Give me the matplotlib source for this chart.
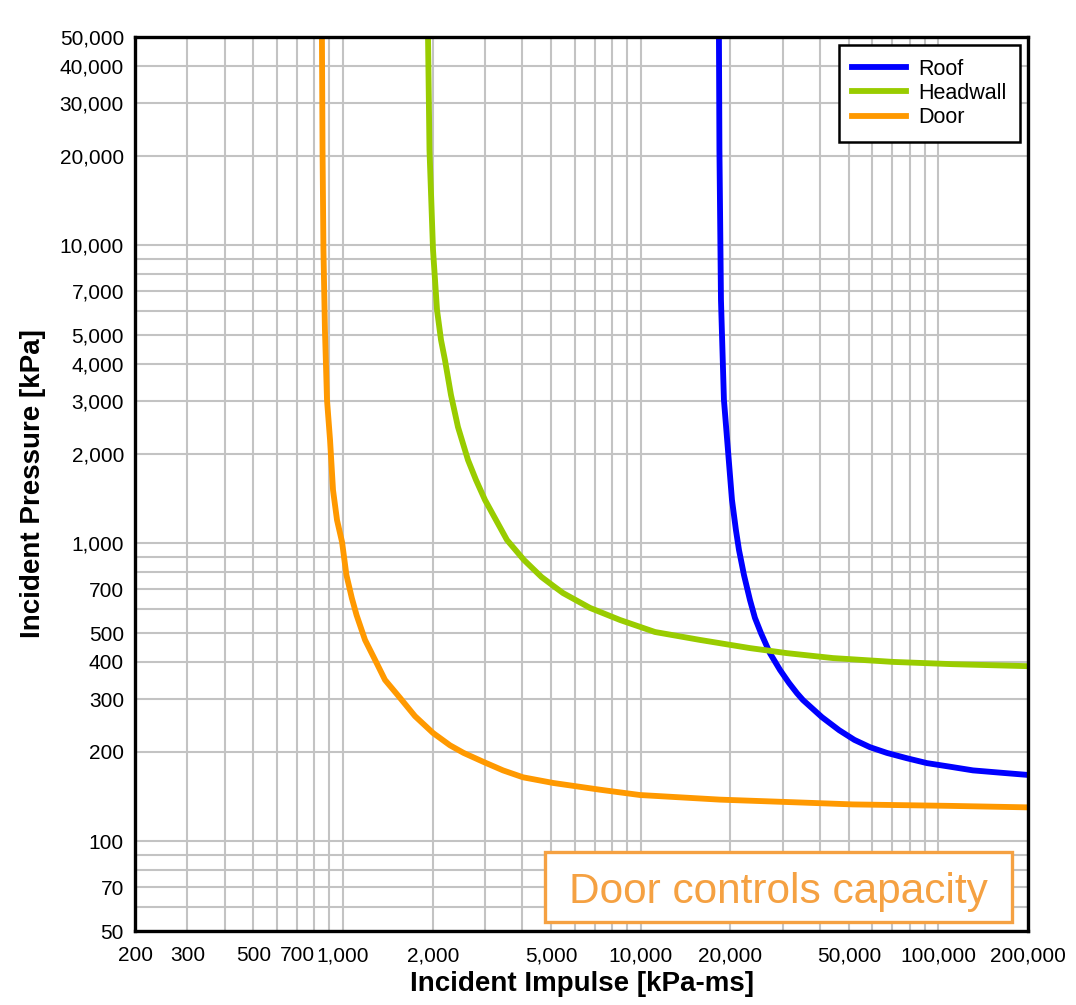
import matplotlib.pyplot as plt
import numpy as np
from matplotlib.ticker import FixedLocator, LogLocator, NullFormatter
from matplotlib.patches import Rectangle

plt.rcParams['font.family'] = ['Liberation Sans', 'DejaVu Sans']

# P-I curves (impulse in kPa-ms, pressure in kPa)
roof_impulse = [18310, 18380, 18600, 19030, 19630, 20250, 20880, 21380, 22220, 23280,
                24190, 25340, 27160, 29360, 31480, 33490, 35070, 40620, 46400, 52200,
                58870, 67140, 78380, 91500, 109300, 130600, 160900, 200000]
roof_pressure = [50000, 20880, 6550, 3030, 2060, 1400, 1108, 950, 783, 645,
                 562, 500, 428, 376, 340, 314, 298, 261, 236, 219,
                 207, 198, 190, 183, 178, 173, 170, 167]

headwall_impulse = [1929, 1951, 2005, 2068, 2133, 2199, 2304, 2432, 2628, 2796,
                    2998, 3264, 3553, 4052, 4640, 5090, 5480, 6754, 8518, 11160,
                    15810, 23270, 30980, 44220, 70350, 111900, 200000]
headwall_pressure = [50000, 20880, 9645, 6066, 4811, 4122, 3145, 2456, 1903, 1631,
                     1397, 1197, 1026, 879, 771, 719, 681, 607, 553, 504,
                     474, 445, 428, 412, 400, 393, 387]

door_impulse = [849, 853, 859, 869, 883, 904, 925, 954, 992, 1026,
                1070, 1110, 1185, 1281, 1383, 1553, 1744, 2005, 2286, 2540,
                2952, 3446, 4022, 5072, 7295, 9940, 18460, 34270, 51620, 109300, 200000]
door_pressure = [50000, 20880, 9645, 5195, 3026, 2222, 1510, 1197, 1010, 783,
                 655, 574, 474, 406, 348, 303, 263, 231, 210, 198,
                 185, 173, 164, 157, 149, 143, 138, 135, 133, 131.5, 130]

x_ticks = [200, 300, 500, 700, 1000, 2000, 5000, 10000, 20000, 50000, 100000, 200000]
y_ticks = [50, 70, 100, 200, 300, 400, 500, 700, 1000, 2000, 3000, 4000, 5000,
           7000, 10000, 20000, 30000, 40000, 50000]

fig = plt.figure(figsize=(10.76, 10.05), dpi=100)
ax = fig.add_axes([0.1255, 0.0736, 0.8299, 0.8896])

ax.plot(roof_impulse, roof_pressure, color='#0000ff', lw=4.2, label='Roof')
ax.plot(headwall_impulse, headwall_pressure, color='#99cc00', lw=4.2, label='Headwall')
ax.plot(door_impulse, door_pressure, color='#ff9900', lw=4.2, label='Door')

ax.set_xscale('log')
ax.set_yscale('log')
ax.set_xlim(200, 200000)
ax.set_ylim(50, 50000)

ax.xaxis.set_major_locator(FixedLocator(x_ticks))
ax.yaxis.set_major_locator(FixedLocator(y_ticks))
ax.set_xticklabels([f'{v:,}' for v in x_ticks])
ax.set_yticklabels([f'{v:,}' for v in y_ticks])
ax.xaxis.set_minor_locator(LogLocator(base=10, subs=np.arange(1, 10), numticks=50))
ax.yaxis.set_minor_locator(LogLocator(base=10, subs=np.arange(1, 10), numticks=50))
ax.xaxis.set_minor_formatter(NullFormatter())
ax.yaxis.set_minor_formatter(NullFormatter())

ax.grid(which='both', color='#c3c3c3', lw=1.5)
ax.set_axisbelow(True)
ax.tick_params(which='both', length=0)
ax.tick_params(axis='x', labelsize=15, pad=11)
ax.tick_params(axis='y', labelsize=15, pad=8)

for sp in ax.spines.values():
    sp.set_linewidth(2.4)
    sp.set_color('black')

ax.set_xlabel('Incident Impulse [kPa-ms]', fontsize=20, fontweight='bold', labelpad=4)
ax.set_ylabel('Incident Pressure [kPa]', fontsize=20, fontweight='bold', labelpad=10)

leg = ax.legend(loc='upper right', fontsize=15.5, frameon=True, fancybox=False,
                handlelength=2.5, labelspacing=0.16, borderaxespad=0.37,
                borderpad=0.63, handletextpad=0.55, framealpha=1)
leg.get_frame().set_edgecolor('black')
leg.get_frame().set_linewidth(1.8)

# annotation box
ax.add_patch(Rectangle((0.4591, 0.0101), 0.523, 0.0783, transform=ax.transAxes,
                       facecolor='white', edgecolor='#f5a142', lw=2.4, zorder=5))
ax.text(0.7206, 0.0313, 'Door controls capacity', transform=ax.transAxes,
        fontsize=30.5, color='#f5a142', ha='center', va='baseline', zorder=6)

fig.savefig('out.png', dpi=100)
